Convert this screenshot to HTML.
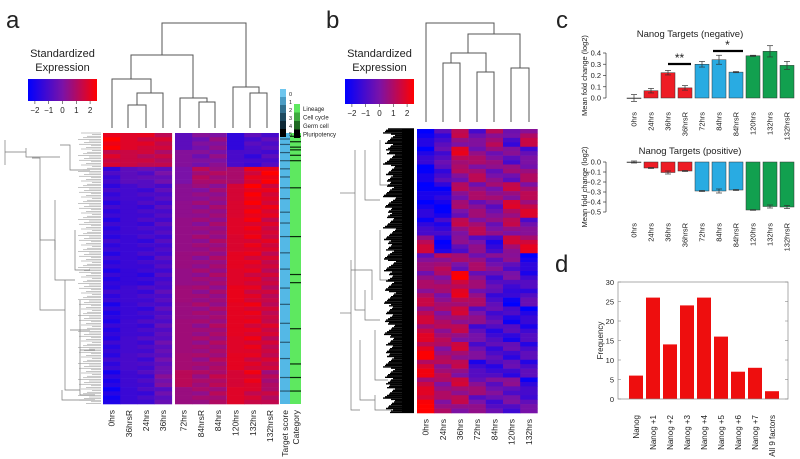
<!DOCTYPE html>
<html><head><meta charset="utf-8"><style>
html,body{margin:0;padding:0;background:#fff;}
svg{display:block;font-family:"Liberation Sans",sans-serif;}
</style></head><body>
<svg id="fig" width="800" height="459" viewBox="0 0 800 459" xmlns="http://www.w3.org/2000/svg">
<defs>
<linearGradient id="bwr" x1="0" x2="1" y1="0" y2="0"><stop offset="0" stop-color="#0000ff"/><stop offset="0.5" stop-color="#7a12a8"/><stop offset="1" stop-color="#ff0000"/></linearGradient>
</defs>
<g id="pa"></g>
<g id="pb"></g>
<g id="pc"></g>
<g id="pd"></g>
</svg>
<script>
// ---------- data ----------
const colsA = ["0hrs","36hrsR","24hrs","36hrs","72hrs","84hrsR","84hrs","120hrs","132hrs","132hrsR"];
const heatA = [
[2.3,1.9,1.8,1.5,-0.6,0.0,0.3,-1.5,-0.8,-0.8],
[1.6,1.5,1.4,1.2,0.2,0.0,0.2,-1.0,-1.2,-0.9],
[-1.2,-0.6,-0.6,-0.3,0.0,1.0,0.8,0.9,1.9,2.3],
[-1.3,-1.1,-1.0,-0.8,0.3,0.4,0.5,1.7,2.3,1.8],
[-1.4,-1.2,-1.1,-0.9,0.4,0.5,0.6,1.8,2.2,1.9],
[-1.5,-1.2,-1.1,-0.9,0.5,0.5,0.6,1.9,2.1,1.6],
[-1.4,-1.3,-1.2,-1.0,0.5,0.6,0.7,1.8,2.0,1.7],
[-1.5,-1.3,-1.2,-0.9,0.6,0.5,0.7,2.0,1.9,1.5],
[-1.6,-1.4,-1.4,-1.0,0.5,0.6,0.7,1.9,1.8,1.4],
[-1.4,-1.2,-1.1,-0.8,0.7,0.6,0.6,2.1,1.8,1.3],
[-1.7,-1.3,-1.2,-0.8,0.6,0.7,0.7,2.0,2.0,1.4],
[-1.6,-1.2,-1.1,-0.7,0.7,0.6,0.8,2.0,1.9,1.6],
[-1.5,-1.1,-1.0,-0.5,0.7,0.7,0.8,1.9,2.0,1.4],
[-1.4,-1.0,-1.0,-0.4,0.8,0.7,0.9,2.0,1.8,1.5],
[-1.8,-1.2,-1.0,0.0,1.2,0.8,1.1,1.7,2.0,0.9],
[-2.0,-1.3,-1.1,-0.5,0.6,0.7,0.9,1.9,1.6,1.2]];
const colsB = ["0hrs","24hrs","36hrs","72hrs","84hrs","120hrs","132hrs"];
const heatB = [
[-2.2,-0.6,0.5,-0.3,1.2,-1.0,1.0],
[-1.8,-0.3,1.2,0.5,0.6,-0.6,-0.4],
[-2.4,-0.6,0.2,0.8,0.4,-0.2,0.6],
[-2.4,-1.5,0.3,0.5,0.8,0.6,0.8],
[-2.0,-2.0,0.0,0.3,0.2,1.0,1.4],
[-1.5,-1.0,0.5,0.8,0.5,0.5,-0.2],
[1.2,-1.8,-0.5,0.0,-1.0,0.8,1.6],
[0.2,1.2,0.0,0.5,0.3,-0.5,-2.0],
[0.5,1.0,1.6,0.3,-0.3,-0.8,-1.2],
[1.0,0.8,1.2,0.5,-0.5,-2.2,-0.8],
[1.2,1.0,0.8,0.0,-0.3,-1.8,-1.8],
[1.5,1.2,0.5,-0.5,-0.8,-1.5,-1.2],
[2.0,1.0,0.8,-0.3,-0.5,-1.2,-1.0],
[1.8,1.2,0.5,-1.2,-0.8,-1.2,-1.0],
[1.5,1.0,0.8,0.3,0.2,-0.5,-1.5],
[2.4,1.0,0.5,0.0,-0.3,-0.8,-0.5]];
const subRowOffsets = [0.25,-0.3,0.15,-0.15];
const targetStripes = [0.02,0.04,0.07,0.1,0.13,0.16,0.2,0.24,0.29,0.33,0.38,0.44,0.5,0.57,0.63,0.7,0.77,0.83,0.9,0.95];
const categoryStripes = [0.01,0.03,0.05,0.06,0.08,0.1,0.2,0.38,0.52,0.55,0.72,0.85,0.9,0.95];

const cCats = ["0hrs","24hrs","36hrs","36hrsR","72hrs","84hrs","84hrsR","120hrs","132hrs","132hrsR"];
const cGroups = [0,1,1,1,2,2,2,3,3,3];
const negVals = [0.0,0.065,0.225,0.09,0.30,0.34,0.23,0.375,0.415,0.29];
const negErr = [0.03,0.02,0.02,0.02,0.025,0.04,0.005,0.005,0.05,0.035];
const posVals = [0.0,-0.06,-0.105,-0.09,-0.29,-0.29,-0.28,-0.48,-0.445,-0.45];
const posErr = [0.01,0.005,0.015,0.005,0.005,0.02,0.005,0.003,0.015,0.015];
const negTicks = [0.0,0.1,0.2,0.3,0.4];
const posTicks = [0.0,-0.1,-0.2,-0.3,-0.4,-0.5];

const dCats = ["Nanog","Nanog +1","Nanog +2","Nanog +3","Nanog +4","Nanog +5","Nanog +6","Nanog +7","All 9 factors"];
const dVals = [6,26,14,24,26,16,7,8,2];
const dTicks = [0,5,10,15,20,25,30];

// ---------- helpers ----------
const NS="http://www.w3.org/2000/svg";
function mk(parent,tag,attrs,text){const e=document.createElementNS(NS,tag);for(const k in attrs)e.setAttribute(k,attrs[k]);if(text!==undefined)e.textContent=text;parent.appendChild(e);return e;}
function col(v){let t=(v+2.5)/5;t=Math.max(0,Math.min(1,t));
 let r,g,b;if(t<0.5){const u=t/0.5;r=122*u;g=18*u;b=255-(255-168)*u;}else{const u=(t-0.5)/0.5;r=122+(255-122)*u;g=18*(1-u);b=168*(1-u);}
 return `rgb(${r|0},${g|0},${b|0})`;}
function line(p,x1,y1,x2,y2,st,w,name){const l=mk(p,'line',{x1,y1,x2,y2,stroke:st,'stroke-width':w});return l;}
function txt(p,x,y,s,size,anchor,name,rot){const a={x,y,'font-size':size,'text-anchor':anchor||'start',fill:'#222'};if(rot)a.transform=`rotate(${rot} ${x} ${y})`;const t=mk(p,'text',a,s);return t;}
function legend(p,x,y,w,h,name){
 const g=mk(p,'g',{});
 txt(g,x+w/2,y-22,'Standardized',11,'middle','legend-title');txt(g,x+w/2,y-8,'Expression',11,'middle','legend-title-2');
 const r=mk(g,'rect',{x,y,width:w,height:h,fill:'url(#bwr)'});
 [-2,-1,0,1,2].forEach(v=>{const xx=x+w/2+v*w/5;line(g,xx,y+h,xx,y+h+3,'#333',0.6,'scale-tick');txt(g,xx,y+h+12,v<0?'\u2212'+(-v):''+v,8,'middle','scale-tick-label');});
}
function dendro(p,segs,name){const g=mk(p,'g',{fill:'none',stroke:'#555','stroke-width':1});
 segs.forEach(s=>{const pa=mk(g,'path',{d:s});});}

// ---------- panel a ----------
const pa=document.getElementById('pa');
txt(pa,6,28,'a',24,'start','panel-label-a');
legend(pa,28,79,69,22,'legend-a');
dendro(pa,[
 'M162 55V23H246V87','M131 79V55H193V98','M112 128V79H151V93','M137 105V93H163V128','M128 128V105H146V128',
 'M180 128V98H207V102','M199 128V102H215V128','M233 128V87H259V93','M250 128V93H267V128'],'top-dendrogram-a');
(function(){const g=mk(pa,'g',{fill:'none',stroke:'#777','stroke-width':0.7});
 const t0=133,b0=404;
 const segs=['M5 152H26','M26 148V157H60','M5 140V165','M32 158H40V240H55','M40 200V310H65','M65 280V390H80','M55 240V250','M55 200V280H75','M80 300V395H95','M60 145H70V170H90','M75 230V270H90','M70 330H90','M62 390V400H95','M80 350H95'];
 segs.forEach(s=>mk(g,'path',{d:s}));
 for(let y=t0;y<=b0;y+=1.6){mk(g,'line',{x1:78+((Math.round(y*7))%16),y1:y,x2:101,y2:y,stroke:'#8a8a8a','stroke-width':0.5});}
})();
(function(){const g=mk(pa,'g',{});
 const blocks=[[103,4],[175,3],[227,3]];const cw=17.2;const t0=133,b0=404;
 const xs=[];blocks.forEach(b=>{for(let i=0;i<b[1];i++)xs.push(b[0]+i*cw);});
 const nb=heatA.length,ns=subRowOffsets.length;const rh=(b0-t0)/(nb*ns);
 heatA.forEach((row,bi)=>{subRowOffsets.forEach((o,si)=>{row.forEach((v,ci)=>{
   const r=mk(g,'rect',{x:xs[ci],y:t0+(bi*ns+si)*rh,width:cw+0.3,height:rh+0.3,fill:col(v+o*((ci%3)-1))});
   });});});
 colsA.forEach((c,i)=>txt(pa,xs[i]+cw/2+3,410,c,8.5,'end','column-label-a',-90));
 const t=mk(g,'rect',{x:280,y:t0,width:10,height:b0-t0,fill:'#54b8e6'});
 targetStripes.forEach(f=>{const r=mk(g,'rect',{x:280,y:t0+f*(b0-t0),width:10,height:1.2,fill:'#2a5a75'});});
 const c=mk(g,'rect',{x:290,y:t0,width:11,height:b0-t0,fill:'#5ee860'});
 categoryStripes.forEach(f=>{const r=mk(g,'rect',{x:290,y:t0+f*(b0-t0),width:11,height:1.2,fill:'#0a2a0a'});});
 txt(pa,288,410,'Target score',8.5,'end','annotation-label',-90);
 txt(pa,299,410,'Category',8.5,'end','annotation-label',-90);
 const blues=['#6ec6ee','#4a9cc4','#2f6f8e','#1d4a60','#0f2a38','#000'];
 blues.forEach((b,i)=>{const r=mk(pa,'rect',{x:280,y:89+i*8,width:6,height:8,fill:b});txt(pa,289,96+i*8,''+i,5.5,'start','target-score-key-label');});
 const greens=[['#5ee860','Lineage'],['#3faa40','Cell cycle'],['#1f6a22','Germ cell'],['#000','Pluripotency']];
 greens.forEach((gg,i)=>{const r=mk(pa,'rect',{x:294,y:104+i*8.5,width:6,height:8.5,fill:gg[0]});txt(pa,303,111+i*8.5,gg[1],6,'start','category-key-label');});
})();

// ---------- panel b ----------
const pb=document.getElementById('pb');
txt(pb,326,28,'b',24,'start','panel-label-b');
legend(pb,345,79,69,25,'legend-b');
dendro(pb,['M426 122V23H494V34','M468 53V34H520V68','M451 63V53H486V72','M443 122V63H460V122','M477 122V72H494V122','M511 122V68H529V122'],'top-dendrogram-b');
(function(){const g=mk(pb,'g',{});
 const t0=129,b0=413;
 const lg=mk(g,'g',{fill:'none',stroke:'#777','stroke-width':0.7});
 ['M340 193H355','M355 150V310H365','M365 290V320H380','M340 313H351','M351 260V410H360','M360 340V400H375','M365 150V200H380','M380 140V185H390','M380 230V280H390','M375 330V380H388','M375 395V410H392','M351 270H372V300'].forEach(s=>mk(lg,'path',{d:s}));
 for(let y=t0;y<=b0;y+=1.3){const x=388+((Math.round(y*13))%9)-((Math.round(y*5))%6);mk(g,'line',{x1:x,y1:y,x2:414,y2:y,stroke:'#000','stroke-width':1.4});}
 mk(g,'rect',{x:402,y:t0,width:12,height:b0-t0,fill:'#000'});
})();
(function(){const g=mk(pb,'g',{});
 const x0=417,cw=17.2,t0=129,b0=413;const nb=heatB.length,ns=subRowOffsets.length;const rh=(b0-t0)/(nb*ns);
 heatB.forEach((row,bi)=>{subRowOffsets.forEach((o,si)=>{row.forEach((v,ci)=>{
   const r=mk(g,'rect',{x:x0+ci*cw,y:t0+(bi*ns+si)*rh,width:cw+0.3,height:rh+0.3,fill:col(v+o*3*(((ci+si)%3)-1))});
   });});});
 colsB.forEach((c,i)=>txt(pb,x0+i*cw+cw/2+3,419,c,8.5,'end','column-label-b',-90));
})();

// ---------- panel c ----------
const pc=document.getElementById('pc');
txt(pc,556,28,'c',24,'start','panel-label-c');
const groupFill=['none','#ee1c25','#29abe2','#12a04f'];
function barChart(vals,errs,ticks,y0,pxPer,title,titleY,labY,name){
 const g=mk(pc,'g',{});
 const yS=v=>y0-v*pxPer;const xS=i=>634+i*17;
 txt(g,690,titleY,title,9.5,'middle','chart-title');
 const ymin=Math.min(...ticks),ymax=Math.max(...ticks);
 line(g,606,yS(ymin),606,yS(ymax),'#333',0.7,'y-axis');
 ticks.forEach(t=>{line(g,603,yS(t),606,yS(t),'#333',0.7,'y-tick');txt(g,601,yS(t)+2.5,t.toFixed(1).replace('-','\u2212'),7.5,'end','y-tick-label');});
 txt(g,587,(yS(ymin)+yS(ymax))/2,'Mean fold change (log2)',7.5,'middle','y-axis-title',-90);
 vals.forEach((v,i)=>{const y=Math.min(yS(v),yS(0)),h=Math.abs(yS(v)-yS(0));
  const r=mk(g,'rect',{x:xS(i)-7,y,width:14,height:Math.max(h,0.5),fill:groupFill[cGroups[i]],stroke:'#333','stroke-width':0.5});
  
  const e=errs[i];line(g,xS(i),yS(v-e),xS(i),yS(v+e),'#333',0.7,'error-bar');
  line(g,xS(i)-3,yS(v-e),xS(i)+3,yS(v-e),'#333',0.7,'error-cap');line(g,xS(i)-3,yS(v+e),xS(i)+3,yS(v+e),'#333',0.7,'error-cap');
  txt(g,xS(i)+2.5,labY,cCats[i],7.5,'end','x-tick-label',-90);});
 return {xS,yS,g};
}
const negChart=barChart(negVals,negErr,negTicks,98,112.5,'Nanog Targets (negative)',37,112,'chart-negative');
line(negChart.g,negChart.xS(2),64,negChart.xS(3)+6,64,'#000',2.2,'significance-bar');
txt(negChart.g,(negChart.xS(2)+negChart.xS(3))/2+3,62,'**',12,'middle','significance-mark');
line(negChart.g,negChart.xS(5)-6,51,negChart.xS(6)+7,51,'#000',2.2,'significance-bar');
txt(negChart.g,(negChart.xS(5)+negChart.xS(6))/2,49,'*',12,'middle','significance-mark');
barChart(posVals,posErr,posTicks,162,100,'Nanog Targets (positive)',154,223,'chart-positive');

// ---------- panel d ----------
const pd=document.getElementById('pd');
txt(pd,555,272,'d',24,'start','panel-label-d');
(function(){const g=mk(pd,'g',{});
 const x0=618,x1=788,yb=399,yt=282;const yS=v=>yb-(v/30)*(yb-yt);const xS=i=>636+i*17;
 dVals.forEach((v,i)=>{const r=mk(g,'rect',{x:xS(i)-7,y:yS(v),width:14,height:yb-yS(v),fill:'#ee0e0e'});
  
  txt(g,xS(i)+3,415,dCats[i],8,'end','x-tick-label',-90);});
 const b=mk(g,'rect',{x:x0,y:yt,width:x1-x0,height:yb-yt,fill:'none',stroke:'#888','stroke-width':0.7});
 dTicks.forEach(t=>{line(g,x0,yS(t),x0+3,yS(t),'#888',0.6,'y-tick');line(g,x1-3,yS(t),x1,yS(t),'#888',0.6,'y-tick');txt(g,x0-4,yS(t)+3,''+t,7.5,'end','y-tick-label');});
 txt(g,603,(yb+yt)/2,'Frequency',8,'middle','y-axis-title',-90);
})();
</script>
</body></html>
